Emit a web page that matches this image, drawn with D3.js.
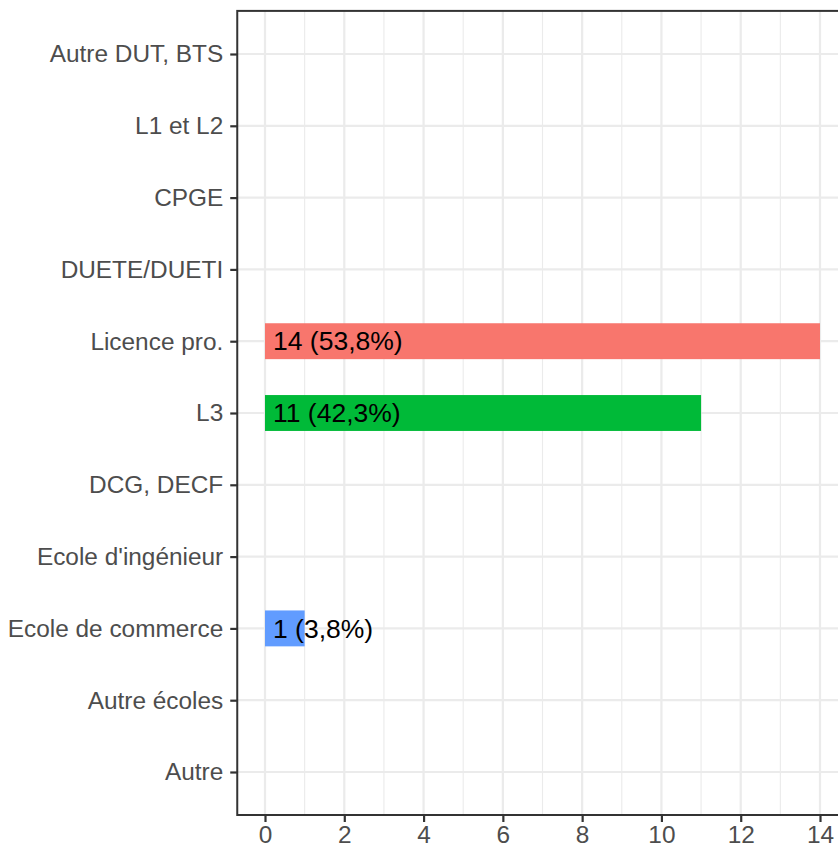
<!DOCTYPE html>
<html>
<head>
<meta charset="utf-8">
<script src="https://cdn.jsdelivr.net/npm/d3@7"></script>
<style>
  body { margin: 0; background: #fff; }
  svg { display: block; font-family: "Liberation Sans", Arial, sans-serif; }
</style>
</head>
<body>
<div id="chart"></div>
<script>
// categories top to bottom
const categories = ["Autre DUT, BTS", "L1 et L2", "CPGE", "DUETE/DUETI", "Licence pro.",
  "L3", "DCG, DECF", "Ecole d'ingénieur", "Ecole de commerce", "Autre écoles", "Autre"];
const barCats = ["Licence pro.", "L3", "Ecole de commerce"];
const barValues = [14, 11, 1];
const barLabels = ["14 (53,8%)", "11 (42,3%)", "1 (3,8%)"];
const barColors = ["#F8766D", "#00BA38", "#619CFF"];
const xTicks = [0, 2, 4, 6, 8, 10, 12, 14];
const xMinor = [1, 3, 5, 7, 9, 11, 13];

const W = 838, H = 847;
const margin = { top: 10.9, left: 237.25, bottom: 32 };
const panelBottom = 815;

const x = d3.scaleLinear()
  .domain([-0.7, 14.7])
  .range([margin.left, 847.75]);

const y = d3.scalePoint()
  .domain(categories)
  .range([54, 772]);
const step = y.step();

const svg = d3.select("#chart")
  .append("svg")
  .attr("width", W)
  .attr("height", H);

// grid
svg.append("g")
  .selectAll("line")
  .data(xMinor)
  .join("line")
  .attr("x1", d => x(d)).attr("x2", d => x(d))
  .attr("y1", margin.top).attr("y2", panelBottom)
  .attr("stroke", "#EBEBEB").attr("stroke-width", 1.1);

svg.append("g")
  .selectAll("line")
  .data(xTicks)
  .join("line")
  .attr("x1", d => x(d)).attr("x2", d => x(d))
  .attr("y1", margin.top).attr("y2", panelBottom)
  .attr("stroke", "#EBEBEB").attr("stroke-width", 2.2);

svg.append("g")
  .selectAll("line")
  .data(categories)
  .join("line")
  .attr("x1", margin.left).attr("x2", W)
  .attr("y1", d => y(d)).attr("y2", d => y(d))
  .attr("stroke", "#EBEBEB").attr("stroke-width", 2.2);

// bars
const bars = barCats.map((c, i) => ({ cat: c, value: barValues[i], label: barLabels[i], color: barColors[i] }));
const bh = step * 0.5;

svg.append("g")
  .selectAll("rect")
  .data(bars)
  .join("rect")
  .attr("x", x(0))
  .attr("y", d => y(d.cat) - bh / 2)
  .attr("width", d => x(d.value) - x(0))
  .attr("height", bh)
  .attr("fill", d => d.color);

svg.append("g")
  .selectAll("text")
  .data(bars)
  .join("text")
  .attr("x", x(0) + 8)
  .attr("y", d => y(d.cat))
  .attr("dy", "0.35em")
  .attr("font-size", 26.5)
  .attr("fill", "#000")
  .text(d => d.label);

// panel border
svg.append("rect")
  .attr("x", margin.left).attr("y", margin.top)
  .attr("width", x.range()[1] - margin.left)
  .attr("height", panelBottom - margin.top)
  .attr("fill", "none")
  .attr("stroke", "#333333").attr("stroke-width", 2);

// axes
const yAxis = svg.append("g")
  .attr("transform", `translate(${margin.left},0)`)
  .call(d3.axisLeft(y).tickSize(7).tickPadding(7));
yAxis.select(".domain").remove();
yAxis.selectAll(".tick line").attr("stroke", "#333333").attr("stroke-width", 2.2);
yAxis.selectAll(".tick text").attr("fill", "#4D4D4D").attr("font-size", 24.4)
  .attr("font-family", "Liberation Sans, Arial, sans-serif");

const xAxis = svg.append("g")
  .attr("transform", `translate(0,${panelBottom})`)
  .call(d3.axisBottom(x).tickValues(xTicks).tickSize(7).tickPadding(4));
xAxis.select(".domain").remove();
xAxis.selectAll(".tick line").attr("stroke", "#333333").attr("stroke-width", 2.2);
xAxis.selectAll(".tick text").attr("fill", "#4D4D4D").attr("font-size", 24.4)
  .attr("font-family", "Liberation Sans, Arial, sans-serif");
</script>
</body>
</html>
